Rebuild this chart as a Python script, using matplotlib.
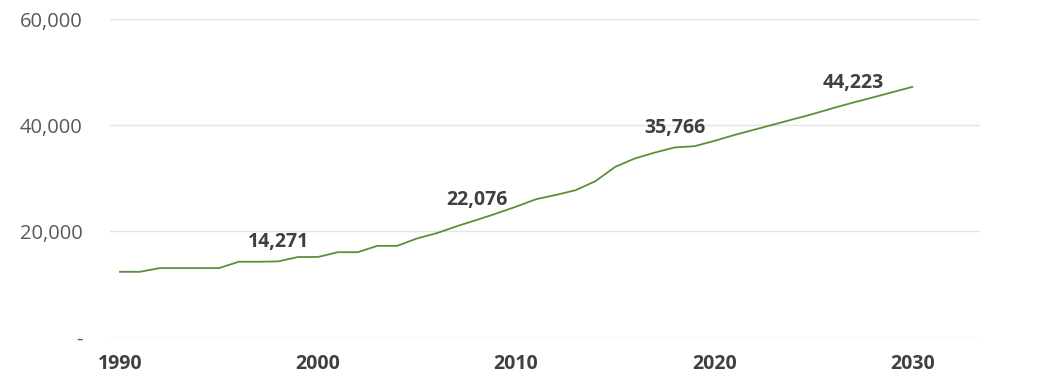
import matplotlib
matplotlib.use("Agg")
import matplotlib.pyplot as plt

years = list(range(1990, 2031))
values = [12300, 12300, 13000, 13000, 13000, 13000, 14200, 14200, 14271, 15100,
          15100, 16000, 16000, 17200, 17200, 18600, 19600, 20900, 22076, 23300,
          24600, 26000, 26800, 27700, 29400, 32100, 33700, 34800, 35766, 36000,
          37000, 38100, 39100, 40100, 41100, 42100, 43200, 44223, 45200, 46200,
          47200]
label_years = [1998, 2008, 2018, 2027]
yticks = [0, 20000, 40000, 60000]
ytick_labels = ["-", "20,000", "40,000", "60,000"]
xticks = [1990, 2000, 2010, 2020, 2030]

plt.rcParams['font.family'] = ['Open Sans', 'DejaVu Sans']

fig = plt.figure(figsize=(10.5, 3.81), dpi=100)
ax = fig.add_axes([0.1048, 0.1155, 0.8282, 0.8345])

ax.plot(years, values, color="#5a8f3c", lw=1.3, zorder=3)

for yr in label_years:
    v = values[years.index(yr)]
    ax.annotate(f"{v:,}", (yr, v), xytext=(0, 7), textcoords="offset points",
                ha="center", va="bottom", fontsize=14, fontweight="bold",
                color="#404040")

ax.set_xlim(1989.5, 2033.4)
ax.set_ylim(0, 60000)
ax.set_yticks(yticks)
ax.set_yticklabels(ytick_labels)
ax.set_xticks(xticks)
ax.set_xticklabels([str(x) for x in xticks])

ax.grid(axis="y", color="#e3e3e3", lw=1)
ax.set_axisbelow(True)
for s in ax.spines.values():
    s.set_visible(False)
ax.tick_params(axis="y", length=0, pad=20, labelsize=14.5, labelcolor="#595959")
ax.tick_params(axis="x", length=0, pad=12, labelsize=14, labelcolor="#404040")
for t in ax.get_xticklabels():
    t.set_fontweight("bold")

fig.savefig("out.png", dpi=100)
